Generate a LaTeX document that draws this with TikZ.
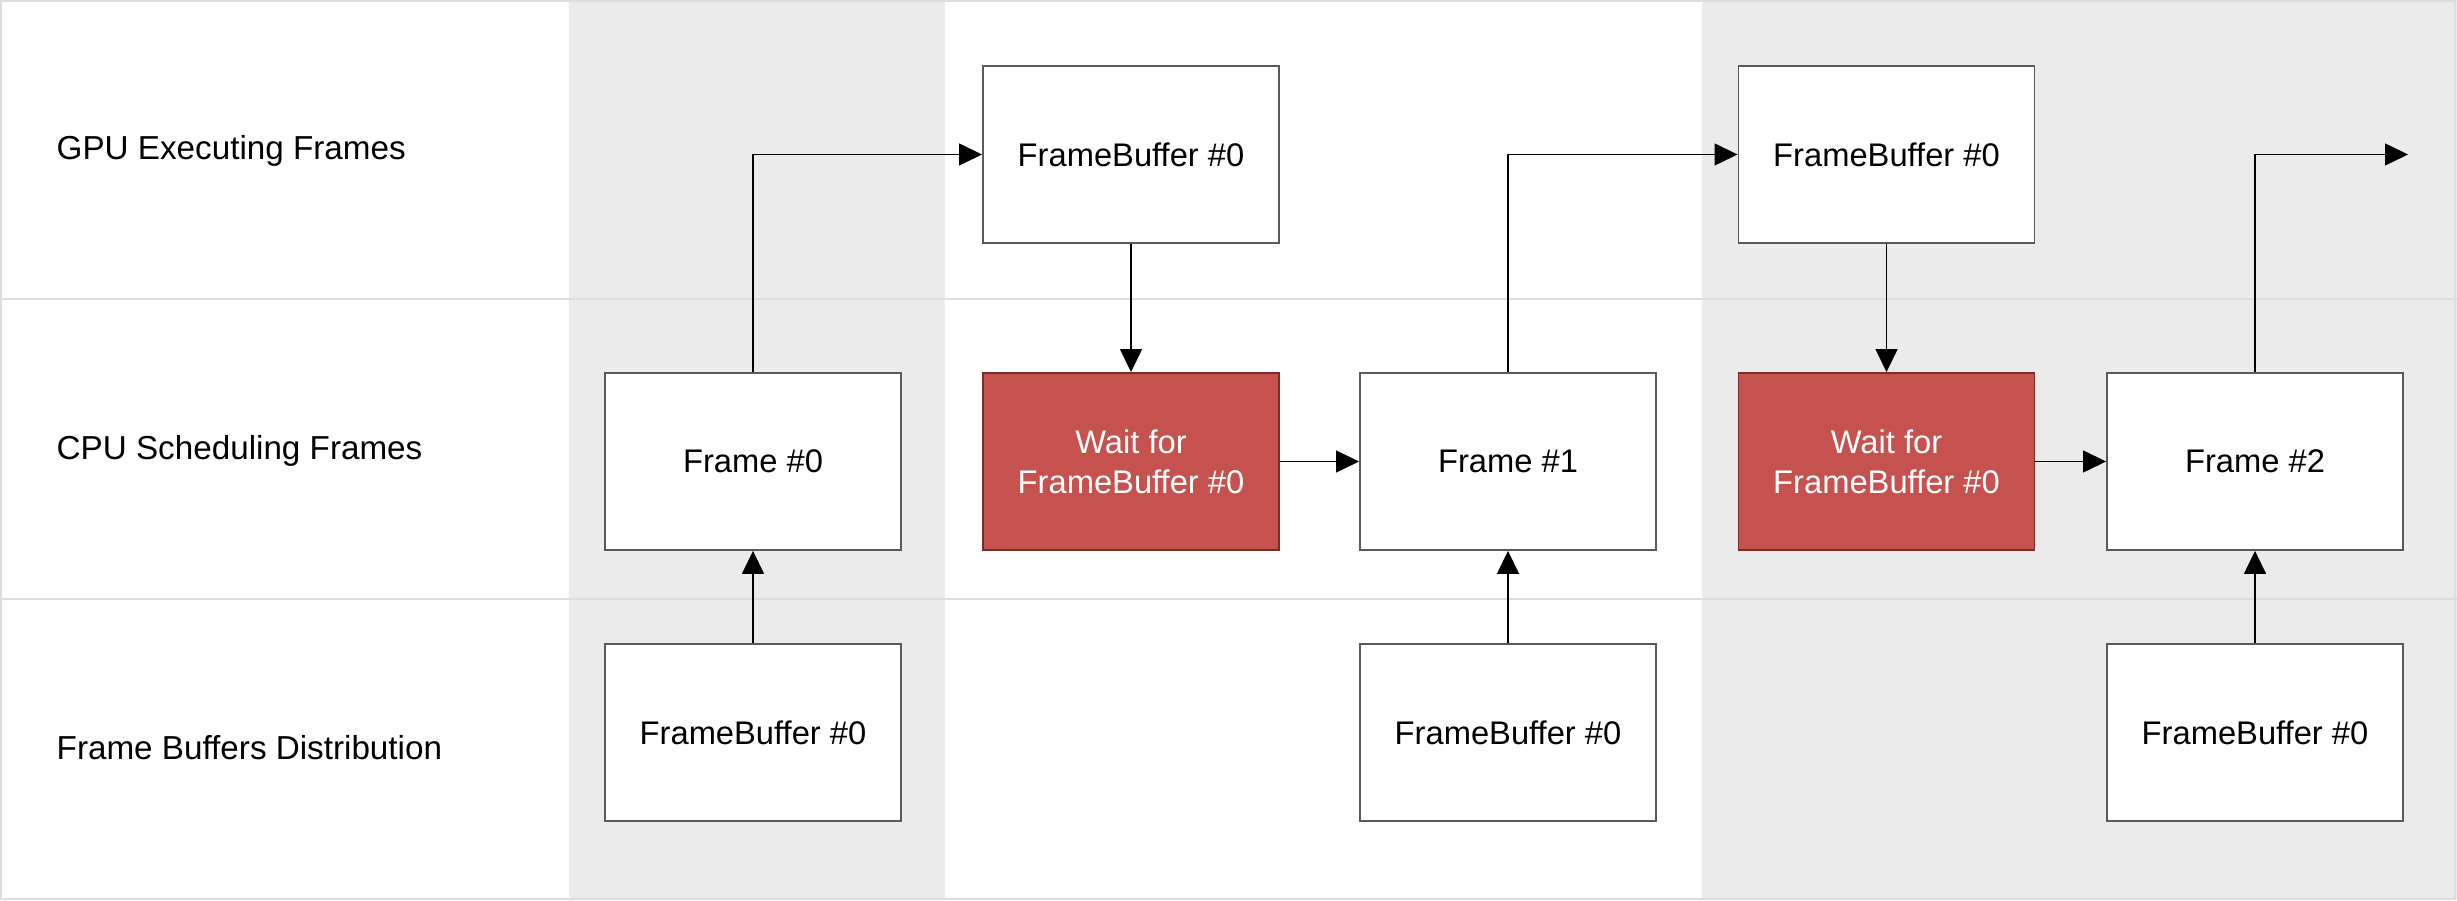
\documentclass[tikz,border=0pt]{standalone}
\usepackage{fontspec}
\setmainfont{Liberation Sans}
\usetikzlibrary{arrows.meta}

\definecolor{bandgray}{HTML}{EBEBEB}
\definecolor{rulegray}{HTML}{DDDDDD}
\definecolor{edgegray}{HTML}{5A5A5A}
\definecolor{waitred}{HTML}{C5524F}
\definecolor{waitedge}{HTML}{7A2E2C}

\tikzset{
  framebox/.style={draw=edgegray, line width=0.5pt, fill=white, minimum width=2.96cm,
    minimum height=1.77cm, align=center, inner sep=0pt,
    font=\fontsize{9.3}{11.4}\selectfont},
  waitbox/.style={framebox, draw=waitedge, fill=waitred, text=white},
  rowlabel/.style={anchor=west, inner sep=0pt, font=\fontsize{9.45}{11.4}\selectfont},
  flow/.style={line width=0.4pt, draw=black, -{Triangle[length=2.3mm, width=2.2mm]}}
}

\begin{document}
\begin{tikzpicture}[x=0.01cm, y=-0.01cm]
    \useasboundingbox (0,0) rectangle (2457,901);

    % background bands and rows
    \fill[bandgray] (569,0) rectangle (945,899);
    \fill[bandgray] (1702,0) rectangle (2457,899);
    \foreach \y in {299,599} \draw[rulegray, line width=0.5pt] (0,\y) -- (2457,\y);
    \draw[rulegray, line width=0.5pt] (1,1) rectangle (2455,899);

    \node[rowlabel] (gpulbl) at (56,151) {GPU Executing Frames};
    \node[rowlabel] (cpulbl) at (56,451) {CPU Scheduling Frames};
    \node[rowlabel] (buflbl) at (56,748) {Frame Buffers Distribution};

    % boxes
    \node[framebox] (f0) at (753,461.5) {Frame \#0};
    \node[framebox] (fb0) at (753,732.5) {FrameBuffer \#0};
    \node[framebox] (g1) at (1131,154.5) {FrameBuffer \#0};
    \node[waitbox] (w1) at (1131,461.5) {Wait for\\FrameBuffer \#0};
    \node[framebox] (f1) at (1508,461.5) {Frame \#1};
    \node[framebox] (fb1) at (1508,732.5) {FrameBuffer \#0};
    \node[framebox] (g2) at (1886.5,154.5) {FrameBuffer \#0};
    \node[waitbox] (w2) at (1886.5,461.5) {Wait for\\FrameBuffer \#0};
    \node[framebox] (f2) at (2255,461.5) {Frame \#2};
    \node[framebox] (fb2) at (2255,732.5) {FrameBuffer \#0};
    \coordinate (out) at (2408,154.5);

    % connectors
    \draw[flow] (fb0) -- (f0);
    \draw[flow] (f0.north) |- (g1.west);
    \draw[flow] (g1) -- (w1);
    \draw[flow] (w1) -- (f1);
    \draw[flow] (fb1) -- (f1);
    \draw[flow] (f1.north) |- (g2.west);
    \draw[flow] (g2) -- (w2);
    \draw[flow] (w2) -- (f2);
    \draw[flow] (fb2) -- (f2);
    \draw[flow] (f2.north) |- (out);

\end{tikzpicture}
\end{document}
